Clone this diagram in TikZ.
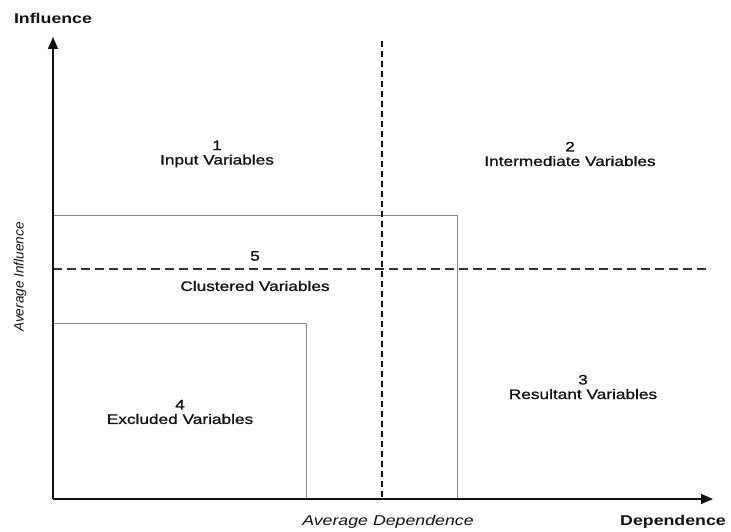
\documentclass[tikz,border=0pt]{standalone}
\usepackage{fontspec}
\setmainfont{Liberation Sans}[FakeStretch=1.25]
\newfontfamily\qfont{Liberation Sans}[FakeStretch=1.25,FakeBold=1]
\newfontfamily\sidefont{Liberation Sans}
\usetikzlibrary{arrows.meta,positioning}
\definecolor{cInk}{HTML}{111111}
\definecolor{cBox}{HTML}{8A8A8A}
\tikzset{
  axis/.style={-{Triangle[length=12pt,width=10pt]},line width=1.6pt,color=cInk},
  hdash/.style={line width=1.5pt,color=cInk!85,dash pattern=on 9pt off 5pt},
  vdash/.style={line width=1.5pt,color=cInk,dash pattern=on 6pt off 4pt},
  zone/.style={draw=cBox,line width=1pt},
  qlbl/.style={align=center,font=\fontsize{13.8}{14.5}\qfont,text=cInk,inner sep=0pt},
  atitle/.style={font=\fontsize{14.2}{15}\selectfont\bfseries,text=cInk,inner sep=0pt},
  avg/.style={font=\fontsize{14.2}{15}\selectfont\itshape,text=cInk,inner sep=0pt},
}
\begin{document}
\begin{tikzpicture}[x=1pt,y=-1pt]
    \useasboundingbox (0,0) rectangle (731,532);
    % axes
    \coordinate (O) at (53,499);
    \coordinate (ytip) at (53,37);
    \coordinate (xtip) at (713,499);
    % zone corners
    \coordinate (c5) at (457,215);
    \coordinate (c4) at (306,323);
    \draw[zone] (O |- c5) -- (c5) -- (c5 |- O);
    \draw[zone] (O |- c4) -- (c4) -- (c4 |- O);
    % averages
    \coordinate (vtop) at (382,41);
    \coordinate (hend) at (711,269);
    \draw[vdash] (vtop) -- (vtop |- O);
    \draw[hdash] (O |- hend) -- (hend);
    \draw[axis] (O) -- (ytip);
    \draw[axis] (O) -- (xtip);
    % titles
    \node[atitle] (tinf) at (53,18) {Influence};
    \node[atitle] (tdep) at (673,522) {Dependence};
    \node[avg] (tavgd) at (388,522) {Average Dependence};
    \node[font=\fontsize{13.6}{14}\sidefont\itshape,text=cInk,inner sep=0pt,rotate=90] (tavgi) at (20,277) {Average Influence};
    % quadrants
    \node[qlbl] (q1) at (217,154) {1\\Input Variables};
    \node[qlbl] (q2) at (570,154) {2\\Intermediate Variables};
    \node[qlbl] (q3) at (583,387) {3\\Resultant Variables};
    \node[qlbl] (q4) at (180,412) {4\\Excluded Variables};
    \node[qlbl] (q5n) at (255,256) {5};
    \node[qlbl] (q5) at (255,286) {Clustered Variables};
\end{tikzpicture}
\end{document}
